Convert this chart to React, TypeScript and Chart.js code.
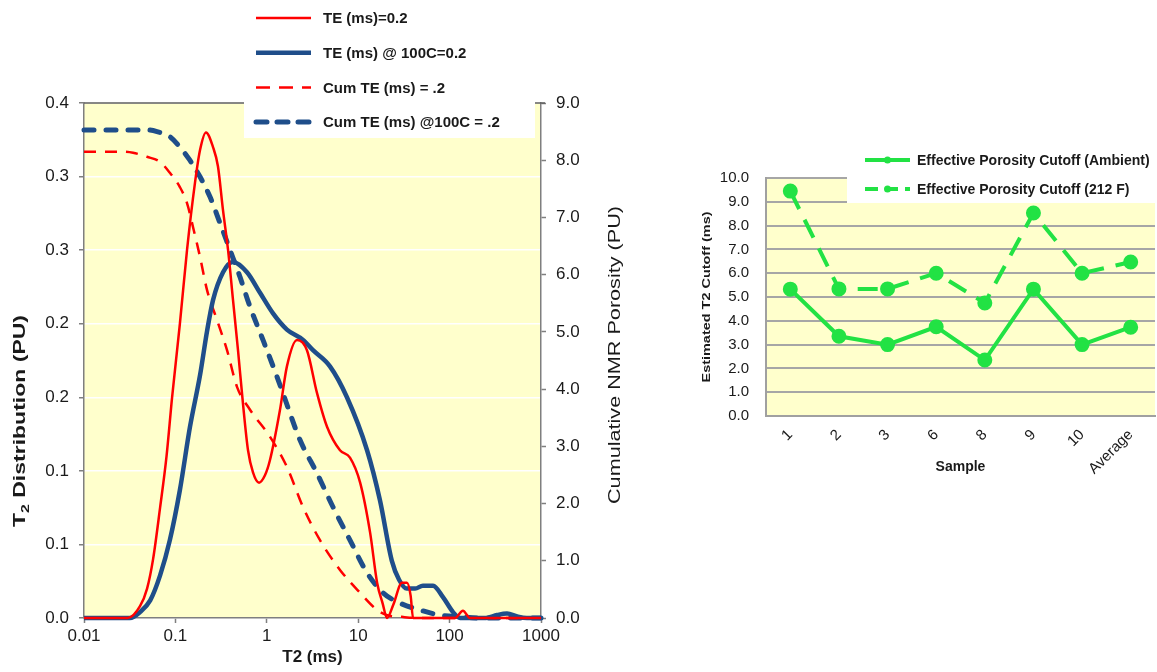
import React, { useEffect, useRef } from 'react';
import { Chart, registerables } from 'chart.js';

Chart.register(...registerables);

const FONT = '"Liberation Sans", Arial, Helvetica, sans-serif';
const RED = '#FF0000';
const NAVY = '#1F4E8A';
const GREEN = '#22E244';
const PLOT_BG = '#FFFFCC';
const AXIS = '#7F7F7F';
const TEXT = '#1A1A1A';

// ---------------- Left chart data ----------------
const X_TICKS = [0.01, 0.1, 1, 10, 100, 1000];
const X_TICK_LABELS = ['0.01', '0.1', '1', '10', '100', '1000'];
const DIST_TICKS = [0, 0.05, 0.1, 0.15, 0.2, 0.25, 0.3, 0.35];
const DIST_TICK_LABELS = ['0.0', '0.1', '0.1', '0.2', '0.2', '0.3', '0.3', '0.4'];
const CUM_TICKS = [0, 1, 2, 3, 4, 5, 6, 7, 8, 9];
const CUM_TICK_LABELS = ['0.0', '1.0', '2.0', '3.0', '4.0', '5.0', '6.0', '7.0', '8.0', '9.0'];

const TE_T2 = [0.01, 0.03, 0.041, 0.049, 0.057, 0.068, 0.080, 0.092, 0.112, 0.134, 0.164, 0.186, 0.216, 0.258, 0.292, 0.332, 0.377, 0.427, 0.484, 0.550, 0.623, 0.706, 0.822, 0.955, 1.08, 1.39, 1.66, 2.14, 2.75, 3.54, 4.56, 6.32, 8.13, 10.5, 13.5, 16.1, 18.5, 20.7, 24.2, 30.1, 34.2, 37.5, 39.8, 115, 140, 167, 1000];
const TE_AMP = [0, 0, 0.008, 0.020, 0.040, 0.075, 0.110, 0.150, 0.200, 0.250, 0.296, 0.318, 0.330, 0.320, 0.307, 0.277, 0.250, 0.216, 0.182, 0.145, 0.114, 0.099, 0.092, 0.097, 0.107, 0.141, 0.171, 0.189, 0.182, 0.153, 0.130, 0.114, 0.109, 0.092, 0.058, 0.024, 0.010, 0, 0.009, 0.024, 0.024, 0.015, 0, 0, 0.005, 0, 0];

const HOT_T2 = [0.01, 0.0318, 0.041, 0.053, 0.068, 0.087, 0.112, 0.1445, 0.186, 0.222, 0.258, 0.332, 0.427, 0.607, 0.843, 1.17, 1.66, 2.49, 3.2, 4.91, 7.53, 12.5, 17.3, 23.3, 28, 34, 42, 51, 66, 85, 109, 130, 250, 330, 425, 550, 700, 1000];
const HOT_AMP = [0, 0, 0.004, 0.012, 0.029, 0.053, 0.087, 0.130, 0.165, 0.195, 0.216, 0.235, 0.242, 0.235, 0.221, 0.207, 0.196, 0.189, 0.182, 0.171, 0.150, 0.114, 0.080, 0.039, 0.026, 0.020, 0.020, 0.022, 0.022, 0.014, 0.004, 0, 0, 0.002, 0.003, 0.001, 0, 0];

const CUM_TE_T2 = [0.01, 0.0248, 0.0344, 0.0489, 0.068, 0.087, 0.112, 0.134, 0.156, 0.186, 0.222, 0.285, 0.367, 0.472, 0.655, 1.08, 1.66, 2.49, 3.82, 6.32, 10.5, 16.1, 20.7, 30, 45, 1000];
const CUM_TE_POR = [8.15, 8.15, 8.13, 8.06, 7.97, 7.78, 7.53, 7.25, 6.83, 6.31, 5.73, 5.21, 4.68, 4.04, 3.64, 3.17, 2.64, 1.94, 1.36, 0.84, 0.44, 0.14, 0.05, 0.02, 0, 0];

const CUM_HOT_T2 = [0.01, 0.0489, 0.0629, 0.087, 0.112, 0.144, 0.186, 0.239, 0.308, 0.396, 0.509, 0.655, 0.908, 1.29, 1.50, 2.31, 3.54, 5.30, 8.13, 12.5, 18.7, 28.7, 47.4, 78.5, 130, 215, 1000];
const CUM_HOT_POR = [8.53, 8.53, 8.50, 8.41, 8.23, 8.00, 7.71, 7.36, 6.90, 6.43, 5.96, 5.44, 4.86, 4.22, 3.93, 3.11, 2.53, 1.94, 1.36, 0.79, 0.44, 0.26, 0.14, 0.05, 0.02, 0, 0];

// ---------------- Right chart data ----------------
const SAMPLES = ['1', '2', '3', '6', '8', '9', '10', 'Average'];
const CUTOFF_AMBIENT = [5.33, 3.35, 3.0, 3.75, 2.35, 5.33, 3.0, 3.73];
const CUTOFF_212F = [9.45, 5.34, 5.34, 6.0, 4.75, 8.53, 6.0, 6.47];
const CUTOFF_TICKS = [0, 1, 2, 3, 4, 5, 6, 7, 8, 9, 10];
const CUTOFF_TICK_LABELS = ['0.0', '1.0', '2.0', '3.0', '4.0', '5.0', '6.0', '7.0', '8.0', '9.0', '10.0'];

const zip = (xs: number[], ys: number[]) => xs.map((x, i) => ({ x, y: ys[i] }));

type Part = { text: string; font: string; dy?: number };

function drawVerticalText(ctx: CanvasRenderingContext2D, parts: Part[], cx: number, cy: number, targetLen: number, color: string) {
  ctx.save();
  ctx.translate(cx, cy);
  ctx.rotate(-Math.PI / 2);
  const widths = parts.map((p) => {
    ctx.font = p.font;
    return ctx.measureText(p.text).width;
  });
  const total = widths.reduce((a, b) => a + b, 0);
  const s = targetLen / total;
  ctx.scale(s, 1);
  ctx.fillStyle = color;
  ctx.textBaseline = 'middle';
  ctx.textAlign = 'left';
  let x = -total / 2;
  parts.forEach((p, i) => {
    ctx.font = p.font;
    ctx.fillText(p.text, x, p.dy || 0);
    x += widths[i];
  });
  ctx.restore();
}

const leftDecor = {
  id: 'leftDecor',
  beforeDraw(chart: any) {
    const { ctx, chartArea: a } = chart;
    ctx.save();
    ctx.fillStyle = PLOT_BG;
    ctx.fillRect(a.left, a.top, a.right - a.left, a.bottom - a.top);
    ctx.restore();
  },
  afterDatasetsDraw(chart: any) {
    const { ctx, chartArea: a } = chart;
    ctx.save();
    ctx.strokeStyle = '#5F5F5F';
    ctx.lineWidth = 1.5;
    ctx.beginPath();
    ctx.moveTo(a.left, a.top);
    ctx.lineTo(a.right + 4, a.top);
    ctx.stroke();
    ctx.restore();
  },
  afterDraw(chart: any) {
    const ctx: CanvasRenderingContext2D = chart.ctx;
    ctx.save();
    ctx.fillStyle = '#FFFFFF';
    ctx.fillRect(244, 0, 291, 138);
    chart.data.datasets.forEach((ds: any, i: number) => {
      const y = 18 + i * 34.7;
      ctx.strokeStyle = ds.borderColor;
      ctx.lineWidth = ds.borderWidth;
      ctx.lineCap = ds.borderCapStyle || 'butt';
      ctx.setLineDash(ds.legendDash || []);
      ctx.beginPath();
      ctx.moveTo(256, y);
      ctx.lineTo(311, y);
      ctx.stroke();
      ctx.setLineDash([]);
      ctx.fillStyle = TEXT;
      ctx.font = `bold 15px ${FONT}`;
      ctx.textBaseline = 'middle';
      ctx.textAlign = 'left';
      ctx.fillText(ds.label, 323, y + 1);
    });
    ctx.restore();
    drawVerticalText(
      ctx,
      [
        { text: 'T', font: `bold 16px ${FONT}` },
        { text: '2', font: `bold 11px ${FONT}`, dy: 5 },
        { text: ' Distribution (PU)', font: `bold 16px ${FONT}` },
      ],
      21, 421, 212, TEXT
    );
    drawVerticalText(ctx, [{ text: 'Cumulative NMR Porosity (PU)', font: `16px ${FONT}` }], 616, 355, 298, TEXT);
  },
};

const rightDecor = {
  id: 'rightDecor',
  beforeDraw(chart: any) {
    const { ctx, chartArea: a } = chart;
    ctx.save();
    ctx.fillStyle = PLOT_BG;
    ctx.fillRect(a.left, a.top, a.right - a.left, a.bottom - a.top);
    ctx.restore();
  },
  afterDraw(chart: any) {
    const ctx: CanvasRenderingContext2D = chart.ctx;
    ctx.save();
    ctx.fillStyle = '#FFFFFF';
    ctx.fillRect(167, 0, 310, 73);
    chart.data.datasets.forEach((ds: any, i: number) => {
      const y = 30 + i * 29;
      ctx.strokeStyle = ds.borderColor;
      ctx.lineWidth = ds.borderWidth;
      ctx.setLineDash(ds.legendDash || []);
      ctx.beginPath();
      ctx.moveTo(185, y);
      ctx.lineTo(230, y);
      ctx.stroke();
      ctx.setLineDash([]);
      ctx.fillStyle = ds.pointBackgroundColor;
      ctx.beginPath();
      ctx.arc(207.5, y, 3.5, 0, Math.PI * 2);
      ctx.fill();
      ctx.fillStyle = TEXT;
      ctx.font = `bold 14px ${FONT}`;
      ctx.textBaseline = 'middle';
      ctx.textAlign = 'left';
      ctx.fillText(ds.label, 237, y + 1);
    });
    ctx.restore();
    drawVerticalText(ctx, [{ text: 'Estimated T2 Cutoff (ms)', font: `bold 11px ${FONT}` }], 27, 167, 171, TEXT);
  },
};

function T2Chart() {
  const ref = useRef<HTMLCanvasElement>(null);
  useEffect(() => {
    const canvas = ref.current!;
    const tickFont = { family: FONT, size: 17 };
    const chart = new Chart(canvas, {
      type: 'line',
      data: {
        datasets: [
          {
            label: 'TE (ms)=0.2',
            data: zip(TE_T2, TE_AMP),
            yAxisID: 'y',
            borderColor: RED,
            borderWidth: 2.5,
            legendDash: [],
          } as any,
          {
            label: 'TE (ms) @ 100C=0.2',
            data: zip(HOT_T2, HOT_AMP),
            yAxisID: 'y',
            borderColor: NAVY,
            borderWidth: 4.5,
            legendDash: [],
          },
          {
            label: 'Cum TE (ms) = .2',
            data: zip(CUM_TE_T2, CUM_TE_POR),
            yAxisID: 'y1',
            borderColor: RED,
            borderWidth: 2.5,
            borderDash: [12, 9],
            legendDash: [14, 9],
          },
          {
            label: 'Cum TE (ms) @100C = .2',
            data: zip(CUM_HOT_T2, CUM_HOT_POR),
            yAxisID: 'y1',
            borderColor: NAVY,
            borderWidth: 5,
            borderDash: [10, 12],
            borderCapStyle: 'round',
            legendDash: [11, 10],
          },
        ] as any,
      },
      options: {
        responsive: false,
        animation: false,
        events: [],
        layout: { padding: { left: 0, right: 0, top: 103, bottom: 0 } },
        plugins: { legend: { display: false }, tooltip: { enabled: false } },
        elements: {
          point: { radius: 0 },
          line: { cubicInterpolationMode: 'monotone', fill: false },
        },
        datasets: { line: { clip: 6 } as any },
        scales: {
          x: {
            type: 'logarithmic',
            min: 0.01,
            max: 1000,
            afterBuildTicks: (s: any) => {
              s.ticks = X_TICKS.map((v) => ({ value: v }));
            },
            afterFit: (s: any) => {
              s.height = 54;
            },
            ticks: {
              callback: (_v: any, i: number) => X_TICK_LABELS[i],
              font: tickFont,
              color: TEXT,
              padding: 3,
              maxRotation: 0,
              autoSkip: false,
            },
            grid: { drawOnChartArea: false, tickLength: 5, tickColor: AXIS, tickWidth: 1.5 },
            border: { color: AXIS, width: 1.5 },
            title: {
              display: true,
              text: 'T2 (ms)',
              color: TEXT,
              font: { family: FONT, size: 17, weight: 'bold' },
              padding: { top: 0, bottom: 4 },
            },
          },
          y: {
            position: 'left',
            min: 0,
            max: 0.35,
            afterBuildTicks: (s: any) => {
              s.ticks = DIST_TICKS.map((v) => ({ value: v }));
            },
            afterFit: (s: any) => {
              s.width = 84;
            },
            ticks: {
              callback: (_v: any, i: number) => DIST_TICK_LABELS[i],
              font: tickFont,
              color: TEXT,
              padding: 10,
            },
            grid: { color: '#FFFFFF', lineWidth: 1.5, tickLength: 5, tickColor: AXIS, tickWidth: 1.5 },
            border: { color: AXIS, width: 1.5 },
          },
          y1: {
            position: 'right',
            min: 0,
            max: 9,
            afterBuildTicks: (s: any) => {
              s.ticks = CUM_TICKS.map((v) => ({ value: v }));
            },
            afterFit: (s: any) => {
              s.width = 660 - 541;
            },
            ticks: {
              callback: (_v: any, i: number) => CUM_TICK_LABELS[i],
              font: tickFont,
              color: TEXT,
              padding: 10,
            },
            grid: { drawOnChartArea: false, tickLength: 5, tickColor: AXIS, tickWidth: 1.5 },
            border: { color: AXIS, width: 1.5 },
          },
        },
      } as any,
      plugins: [leftDecor],
    });
    return () => chart.destroy();
  }, []);
  return (
    <canvas
      ref={ref}
      width={660}
      height={672}
      style={{ position: 'absolute', left: 0, top: 0, width: 660, height: 672 }}
    />
  );
}

function CutoffChart() {
  const ref = useRef<HTMLCanvasElement>(null);
  useEffect(() => {
    const canvas = ref.current!;
    const chart = new Chart(canvas, {
      type: 'line',
      data: {
        labels: SAMPLES,
        datasets: [
          {
            label: 'Effective Porosity Cutoff (Ambient)',
            data: CUTOFF_AMBIENT,
            borderColor: GREEN,
            backgroundColor: GREEN,
            pointBackgroundColor: GREEN,
            pointBorderColor: GREEN,
            borderWidth: 4,
            pointRadius: 5.5,
            legendDash: [],
          } as any,
          {
            label: 'Effective Porosity Cutoff (212 F)',
            data: CUTOFF_212F,
            borderColor: GREEN,
            backgroundColor: GREEN,
            pointBackgroundColor: GREEN,
            pointBorderColor: GREEN,
            borderWidth: 4,
            pointRadius: 5.5,
            borderDash: [20, 12],
            legendDash: [13, 7],
          },
        ] as any,
      },
      options: {
        responsive: false,
        animation: false,
        events: [],
        layout: { autoPadding: false, padding: { left: 0, right: 2, top: 48, bottom: 0 } },
        plugins: { legend: { display: false }, tooltip: { enabled: false } },
        elements: { line: { tension: 0 } },
        datasets: { line: { clip: 8 } as any },
        scales: {
          x: {
            type: 'category',
            offset: true,
            afterFit: (s: any) => {
              s.height = 74;
              s.paddingLeft = 0;
              s.paddingRight = 0;
            },
            ticks: {
              font: { family: FONT, size: 15 },
              color: TEXT,
              minRotation: 45,
              maxRotation: 45,
              autoSkip: false,
              padding: 10,
            },
            grid: { drawOnChartArea: false, drawTicks: false },
            border: { color: '#A0A0A0', width: 2 },
            title: {
              display: true,
              text: 'Sample',
              color: TEXT,
              font: { family: FONT, size: 14, weight: 'bold' },
              padding: { top: 0, bottom: 14 },
            },
          },
          y: {
            min: 0,
            max: 10,
            afterBuildTicks: (s: any) => {
              s.ticks = CUTOFF_TICKS.map((v) => ({ value: v }));
            },
            afterFit: (s: any) => {
              s.width = 86;
            },
            ticks: {
              callback: (_v: any, i: number) => CUTOFF_TICK_LABELS[i],
              font: { family: FONT, size: 15 },
              color: TEXT,
              padding: 17,
            },
            grid: { color: '#A6A6A6', lineWidth: 2, drawTicks: false },
            border: { color: '#A0A0A0', width: 2 },
          },
        },
      } as any,
      plugins: [rightDecor],
    });
    return () => chart.destroy();
  }, []);
  return (
    <canvas
      ref={ref}
      width={477}
      height={360}
      style={{ position: 'absolute', left: 680, top: 130, width: 477, height: 360 }}
    />
  );
}

export default function App() {
  return (
    <div
      style={{
        position: 'fixed',
        left: 0,
        top: 0,
        width: 1157,
        height: 672,
        background: '#FFFFFF',
        overflow: 'hidden',
      }}
    >
      <T2Chart />
      <CutoffChart />
    </div>
  );
}
